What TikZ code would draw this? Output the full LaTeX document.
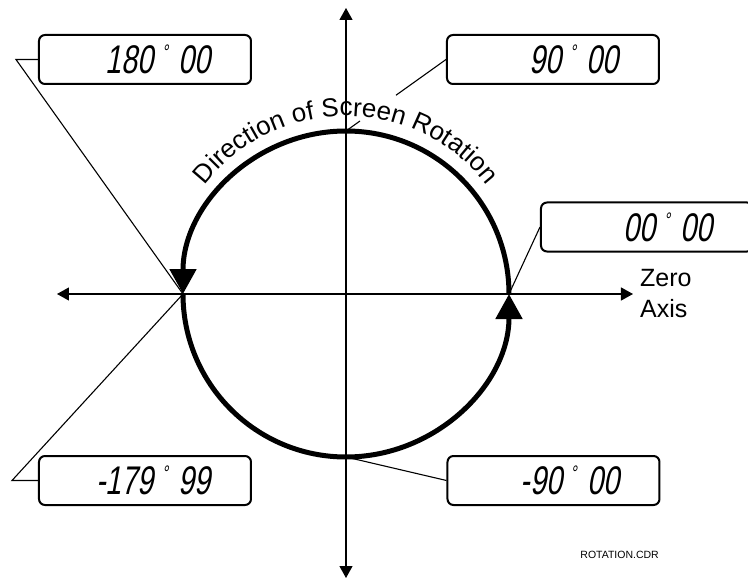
\documentclass[tikz,border=0pt]{standalone}
\usepackage{fontspec}
\setmainfont{Liberation Sans}
\newfontfamily\lcdfont[FakeStretch=0.72,FakeSlant=0.18]{Liberation Sans}
\usetikzlibrary{calc,arrows.meta,positioning,decorations.text}

\newcommand\lcddeg{\hspace{8pt}\raisebox{14pt}{\fontsize{21}{21}\selectfont °}\hspace{11pt}}

\begin{document}
\begin{tikzpicture}[x=1pt,y=1pt,
    lcdbox/.style={draw, line width=2pt, rounded corners=6pt, text width=132pt, inner xsep=40pt, inner ysep=0pt, minimum height=49pt, align=right, font=\lcdfont\fontsize{40}{42}\selectfont},
    leader/.style={line width=1.1pt},
    axisline/.style={line width=1.1pt, {Triangle[length=12pt,width=13pt]}-{Triangle[length=12pt,width=13pt]}},
    rotarc/.style={line width=5pt, -{Triangle[length=25pt,width=26pt]}}]
    \useasboundingbox (-346,-290) rectangle (402,294);

    % axes
    \coordinate (axL) at (-289,0);
    \coordinate (axR) at (287,0);
    \coordinate (axT) at (0,286);
    \coordinate (axB) at (0,-284);
    \draw[axisline] (axL) -- (axR);
    \draw[axisline] (axT) -- (axB);

    % points on the circle
    \coordinate (ptE) at (0:163);
    \coordinate (ptN) at (90:163);
    \coordinate (ptW) at (180:163);
    \coordinate (ptS) at (270:163);

    % readout boxes
    \node[lcdbox] (b180) at (-201,234.5) {180\lcddeg00};
    \node[lcdbox] (b90) at (207,234.5) {90\lcddeg00};
    \node[lcdbox] (b0) at (301,67) {00\lcddeg00};
    \node[lcdbox] (bm179) at (-201,-186.5) {-179\lcddeg99};
    \node[lcdbox] (bm90) at (207.5,-186.5) {-90\lcddeg00};

    % leaders
    \coordinate (elbowA) at (-330,234.5);
    \coordinate (elbowB) at (-334,-186.5);
    \coordinate (gapA) at ($(b90.west)!0.5!(ptN)$);
    \coordinate (gapB) at ($(b90.west)!0.86!(ptN)$);
    \draw[leader] (b180.west) -- (elbowA) -- (ptW);
    \draw[leader] (bm179.west) -- (elbowB) -- (ptW);
    \draw[leader] (b0.west) -- (ptE);
    \draw[leader] (bm90.west) -- (ptS);
    \draw[leader] (b90.west) -- (gapA);
    \draw[leader] (gapB) -- (ptN);

    % rotation circle
    \draw[rotarc] (ptE) arc[start angle=0, end angle=180, radius=163];
    \draw[rotarc] (ptW) arc[start angle=180, end angle=360, radius=163];
    \path[decorate, decoration={text along path, text align=center,
        text={|\fontsize{26}{26}\selectfont|Direction of Screen Rotation}}]
        (170:178) arc[start angle=170, end angle=10, radius=178];

    % labels
    \node[align=left, font=\fontsize{25}{31}\selectfont, inner sep=0pt, right=7pt of axR] (zero) {Zero\\Axis};
    \node[anchor=base east, font=\fontsize{10.5}{12}\selectfont, inner sep=0pt] (fname) at (313,-264) {ROTATION.CDR};
\end{tikzpicture}
\end{document}
